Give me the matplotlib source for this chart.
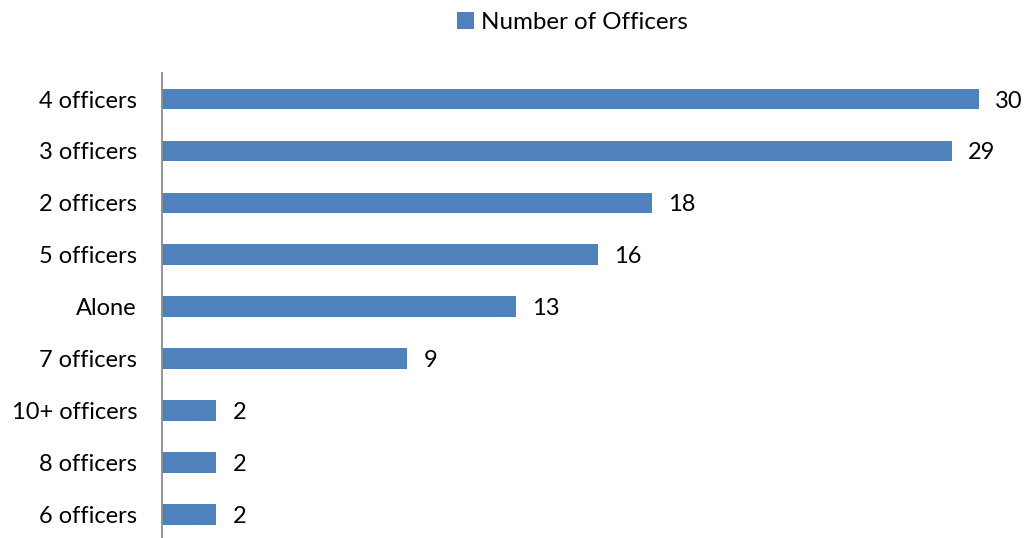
import matplotlib
matplotlib.use('Agg')
import matplotlib.pyplot as plt
import numpy as np

plt.rcParams['font.family'] = ['Lato', 'DejaVu Sans']

# Officers present, sorted as shown (top to bottom)
categories = ['4 officers', '3 officers', '2 officers', '5 officers', 'Alone',
              '7 officers', '10+ officers', '8 officers', '6 officers']
officers = [30, 29, 18, 16, 13, 9, 2, 2, 2]

bar_color = '#4F81BD'

fig = plt.figure(figsize=(10.28, 5.38), dpi=100)
ax = fig.add_axes([0.1576, -0.004, 0.821, 0.868])

y = np.arange(len(categories))
bars = ax.barh(y, officers, height=0.4, color=bar_color, label='Number of Officers')

ax.set_ylim(len(categories) - 0.5, -0.5)
ax.set_xlim(0, 31)
ax.set_yticks(y)
ax.set_yticklabels(categories, fontsize=17)
ax.tick_params(axis='y', length=0, pad=18)
ax.set_xticks([])

for side in ['top', 'right', 'bottom']:
    ax.spines[side].set_visible(False)
ax.spines['left'].set_color('#8C8C8C')
ax.spines['left'].set_linewidth(1.3)

# Value labels right of each bar
for bar, val in zip(bars, officers):
    ax.text(bar.get_width() + 0.6, bar.get_y() + bar.get_height() / 2,
            f'{val}', ha='left', va='center_baseline', fontsize=17)

fig.legend(loc='upper center', bbox_to_anchor=(0.557, 1.018), frameon=False,
           fontsize=17.4, handlelength=0.7, handleheight=0.7, handletextpad=0.3)

plt.savefig('out.png', dpi=100, facecolor='white')
plt.close()
